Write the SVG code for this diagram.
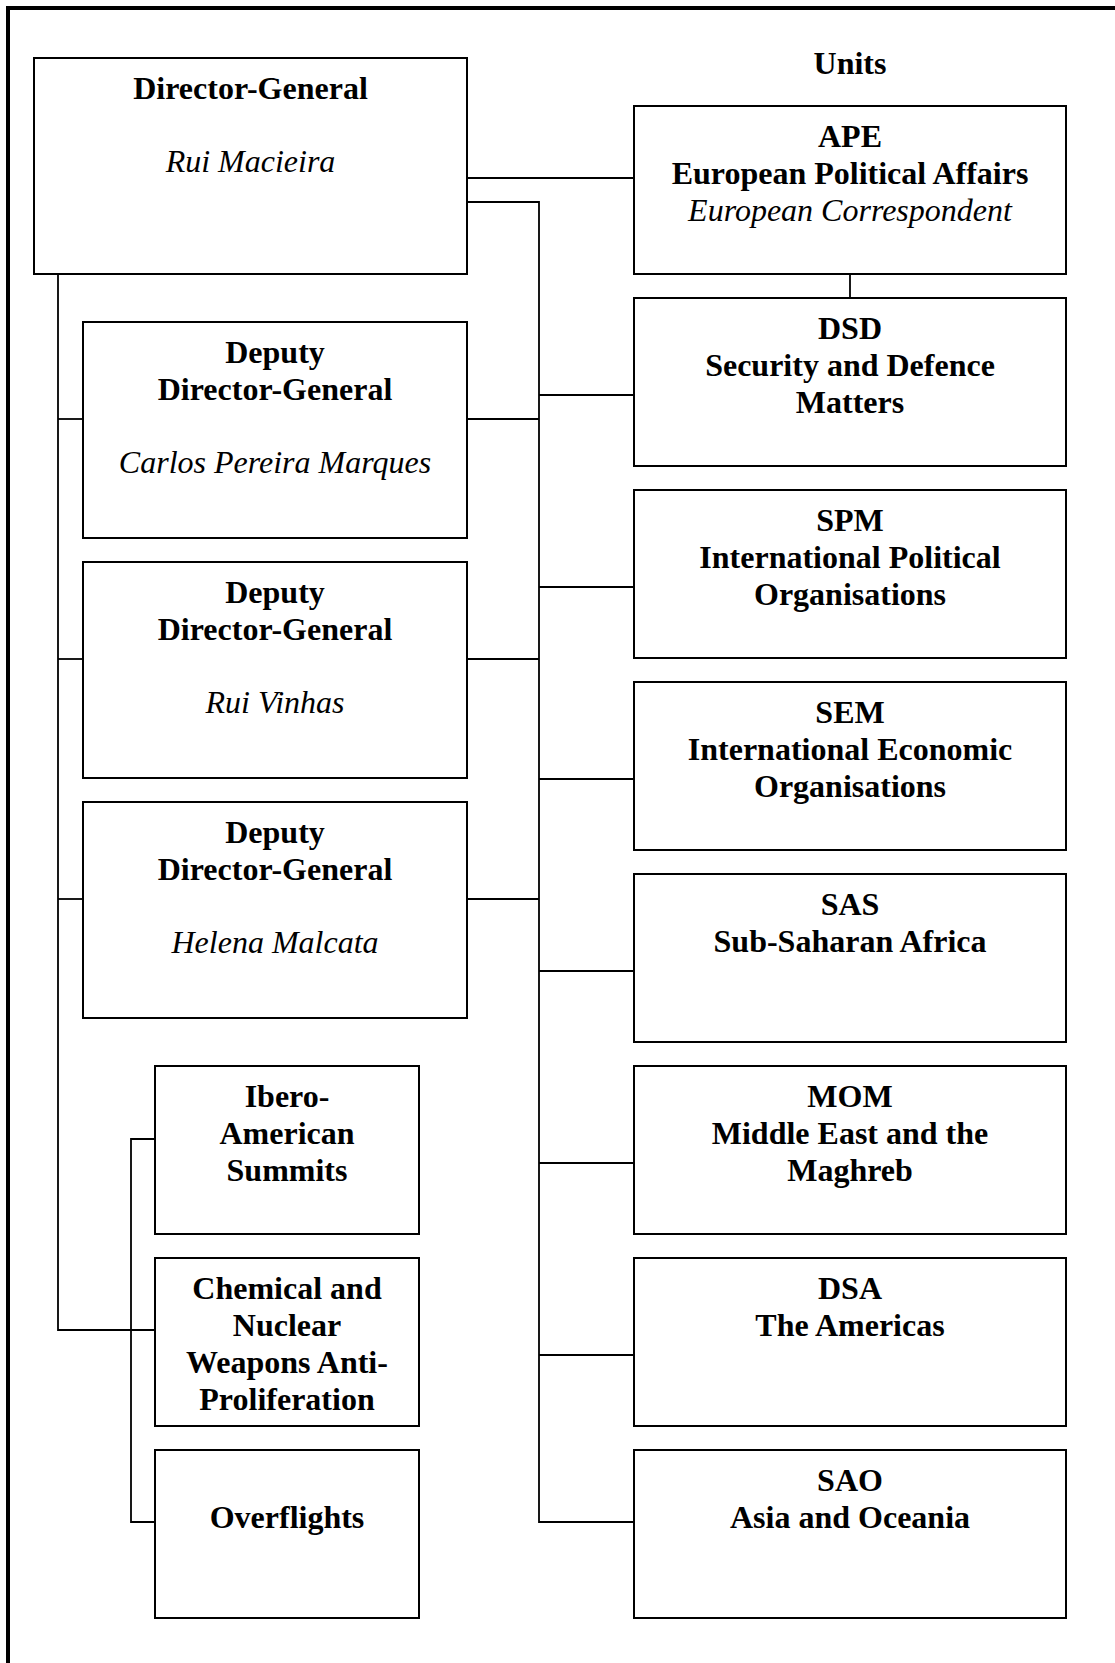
<svg xmlns="http://www.w3.org/2000/svg" width="1115" height="1663" viewBox="0 0 1115 1663">
  <style>
    .box { fill: #fff; stroke: #000; stroke-width: 2; }
    .frame { fill: none; stroke: #000; stroke-width: 4; }
    .link { fill: none; stroke: #000; stroke-width: 1.8; }
    text { font-family: "Liberation Serif", "Times New Roman", serif; font-size: 32px; text-anchor: middle; fill: #000; }
    .b { font-weight: bold; }
    .i { font-style: italic; }
  </style>
  <rect width="1115" height="1663" fill="#fff"/>

  <!-- page frame (open on the right and bottom) -->
  <path class="frame" d="M8,1663 V8 H1115"/>

  <!-- connectors -->
  <g id="connectors">
    <!-- Director-General to units -->
    <path class="link" d="M467,178 H634"/>
    <path class="link" d="M467,202 H539 V1522 H634"/>
    <path class="link" d="M539,395 H634"/>
    <path class="link" d="M539,587 H634"/>
    <path class="link" d="M539,779 H634"/>
    <path class="link" d="M539,971 H634"/>
    <path class="link" d="M539,1163 H634"/>
    <path class="link" d="M539,1355 H634"/>
    <path class="link" d="M850,274 V298"/>
    <!-- deputies to units trunk -->
    <path class="link" d="M467,419 H539"/>
    <path class="link" d="M467,659 H539"/>
    <path class="link" d="M467,899 H539"/>
    <!-- Director-General down the left side -->
    <path class="link" d="M58,274 V1330 H155"/>
    <path class="link" d="M58,419 H83"/>
    <path class="link" d="M58,659 H83"/>
    <path class="link" d="M58,899 H83"/>
    <!-- special services bracket -->
    <path class="link" d="M155,1139 H131 V1522 H155"/>
  </g>

  <text class="b" x="850" y="74">Units</text>

  <g id="director-general">
    <rect class="box" x="34" y="58" width="433" height="216"/>
    <text class="b" x="250.5" y="99">Director-General</text>
    <text class="i" x="250.5" y="172">Rui Macieira</text>
  </g>

  <g id="deputy-1">
    <rect class="box" x="83" y="322" width="384" height="216"/>
    <text class="b" x="275" y="363">Deputy</text>
    <text class="b" x="275" y="400">Director-General</text>
    <text class="i" x="275" y="473">Carlos Pereira Marques</text>
  </g>

  <g id="deputy-2">
    <rect class="box" x="83" y="562" width="384" height="216"/>
    <text class="b" x="275" y="603">Deputy</text>
    <text class="b" x="275" y="640">Director-General</text>
    <text class="i" x="275" y="713">Rui Vinhas</text>
  </g>

  <g id="deputy-3">
    <rect class="box" x="83" y="802" width="384" height="216"/>
    <text class="b" x="275" y="843">Deputy</text>
    <text class="b" x="275" y="880">Director-General</text>
    <text class="i" x="275" y="953">Helena Malcata</text>
  </g>

  <g id="ibero-american">
    <rect class="box" x="155" y="1066" width="264" height="168"/>
    <text class="b" x="287" y="1107">Ibero-</text>
    <text class="b" x="287" y="1144">American</text>
    <text class="b" x="287" y="1181">Summits</text>
  </g>

  <g id="anti-proliferation">
    <rect class="box" x="155" y="1258" width="264" height="168"/>
    <text class="b" x="287" y="1299">Chemical and</text>
    <text class="b" x="287" y="1336">Nuclear</text>
    <text class="b" x="287" y="1373">Weapons Anti-</text>
    <text class="b" x="287" y="1410">Proliferation</text>
  </g>

  <g id="overflights">
    <rect class="box" x="155" y="1450" width="264" height="168"/>
    <text class="b" x="287" y="1528">Overflights</text>
  </g>

  <g id="ape">
    <rect class="box" x="634" y="106" width="432" height="168"/>
    <text class="b" x="850" y="147">APE</text>
    <text class="b" x="850" y="184">European Political Affairs</text>
    <text class="i" x="850" y="221">European Correspondent</text>
  </g>

  <g id="dsd">
    <rect class="box" x="634" y="298" width="432" height="168"/>
    <text class="b" x="850" y="339">DSD</text>
    <text class="b" x="850" y="376">Security and Defence</text>
    <text class="b" x="850" y="413">Matters</text>
  </g>

  <g id="spm">
    <rect class="box" x="634" y="490" width="432" height="168"/>
    <text class="b" x="850" y="531">SPM</text>
    <text class="b" x="850" y="568">International Political</text>
    <text class="b" x="850" y="605">Organisations</text>
  </g>

  <g id="sem">
    <rect class="box" x="634" y="682" width="432" height="168"/>
    <text class="b" x="850" y="723">SEM</text>
    <text class="b" x="850" y="760">International Economic</text>
    <text class="b" x="850" y="797">Organisations</text>
  </g>

  <g id="sas">
    <rect class="box" x="634" y="874" width="432" height="168"/>
    <text class="b" x="850" y="915">SAS</text>
    <text class="b" x="850" y="952">Sub-Saharan Africa</text>
  </g>

  <g id="mom">
    <rect class="box" x="634" y="1066" width="432" height="168"/>
    <text class="b" x="850" y="1107">MOM</text>
    <text class="b" x="850" y="1144">Middle East and the</text>
    <text class="b" x="850" y="1181">Maghreb</text>
  </g>

  <g id="dsa">
    <rect class="box" x="634" y="1258" width="432" height="168"/>
    <text class="b" x="850" y="1299">DSA</text>
    <text class="b" x="850" y="1336">The Americas</text>
  </g>

  <g id="sao">
    <rect class="box" x="634" y="1450" width="432" height="168"/>
    <text class="b" x="850" y="1491">SAO</text>
    <text class="b" x="850" y="1528">Asia and Oceania</text>
  </g>
</svg>
